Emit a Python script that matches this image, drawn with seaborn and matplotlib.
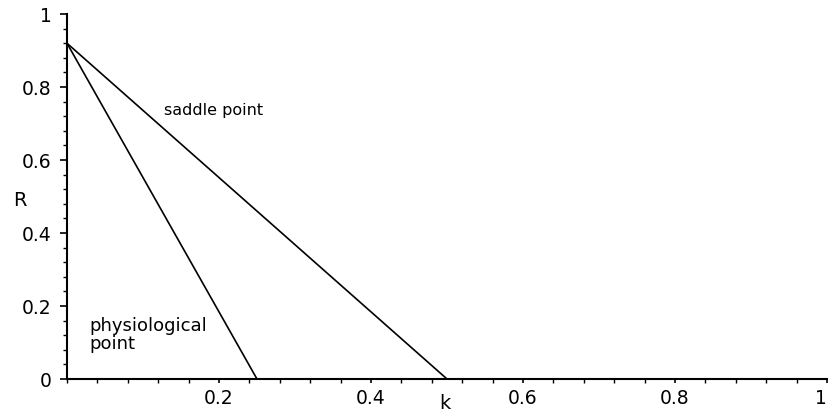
import numpy as np
import pandas as pd
import matplotlib
matplotlib.use("Agg")
import matplotlib.pyplot as plt
import seaborn as sns
from matplotlib.ticker import MultipleLocator, FixedLocator

# curve end points
saddle_k = [0.0, 0.5, 1.0]
saddle_R = [0.92, 0.0, 0.0]
physio_k = [0.0, 0.25]
physio_R = [0.92, 0.0]

x_ticks = [0.2, 0.4, 0.6, 0.8, 1.0]
x_labels = ["0.2", "0.4", "0.6", "0.8", "1"]
y_ticks = [0.0, 0.2, 0.4, 0.6, 0.8, 1.0]
y_labels = ["0", "0.2", "0.4", "0.6", "0.8", "1"]

df = pd.concat([
    pd.DataFrame({"k": saddle_k, "R": saddle_R, "curve": "saddle"}),
    pd.DataFrame({"k": physio_k, "R": physio_R, "curve": "physio"}),
])

sns.set_style("white")
plt.rcParams["font.family"] = ["DejaVu Sans"]
plt.rcParams["text.color"] = "black"
plt.rcParams["xtick.color"] = "black"
plt.rcParams["ytick.color"] = "black"

fig = plt.figure(figsize=(8.3, 4.13), dpi=100)
ax = fig.add_axes([0.0807, 0.0823, 0.9157, 0.8837])

sns.lineplot(data=df, x="k", y="R", hue="curve", palette=["black", "black"],
             linewidth=1.2, legend=False, sort=False, estimator=None, ax=ax)

ax.set_xlim(0, 1)
ax.set_ylim(0, 1)
for s in ["top", "right"]:
    ax.spines[s].set_visible(False)
for s in ["left", "bottom"]:
    ax.spines[s].set_linewidth(1.5)
    ax.spines[s].set_color("black")

ax.xaxis.set_major_locator(FixedLocator(x_ticks))
ax.set_xticklabels(x_labels)
ax.yaxis.set_major_locator(FixedLocator(y_ticks))
ax.set_yticklabels(y_labels)
ax.xaxis.set_minor_locator(MultipleLocator(0.04))
ax.yaxis.set_minor_locator(MultipleLocator(0.04))
ax.tick_params(axis="both", which="major", labelsize=13.5, labelcolor="black",
               direction="out", length=5, width=1.2, pad=6, bottom=True, left=True)
ax.tick_params(axis="both", which="minor", direction="out", length=3,
               width=1.0, bottom=True, left=True)
ax.tick_params(axis="x", which="major", length=3, pad=4)
# keep the last x label inside the figure
ax.get_xticklabels()[-1].set_horizontalalignment("right")

ax.set_xlabel("")
ax.set_ylabel("")
ax.text(-0.062, 0.49, "R", fontsize=14, ha="center", va="center", clip_on=False)
ax.text(0.497, -0.066, "k", fontsize=14, ha="center", va="center", clip_on=False)

ax.text(0.128, 0.735, "saddle point", fontsize=11.5, ha="left", va="center")
ax.text(0.03, 0.12, "physiological\npoint", fontsize=13, ha="left", va="center",
        linespacing=1.0)

fig.savefig("out.png", dpi=100)
